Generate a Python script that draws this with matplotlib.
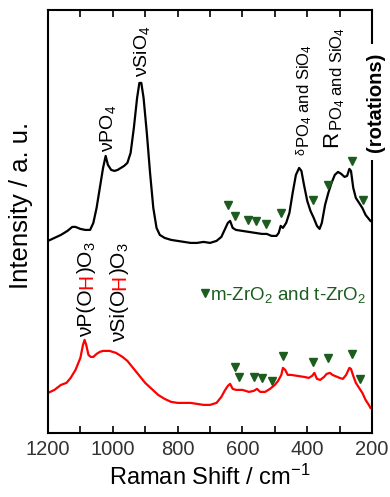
import matplotlib
matplotlib.use('Agg')
import matplotlib.pyplot as plt

plt.rcParams['font.family'] = ['Liberation Sans', 'DejaVu Sans']
plt.rcParams['mathtext.fontset'] = 'custom'
plt.rcParams['mathtext.rm'] = 'Liberation Sans'
plt.rcParams['mathtext.it'] = 'Liberation Sans:italic'
plt.rcParams['mathtext.bf'] = 'Liberation Sans:bold'
plt.rcParams['mathtext.default'] = 'regular'

# upper (black) spectrum, Raman shift / intensity (a.u.)
black_w = [1200, 1180, 1160, 1140, 1125, 1115, 1100, 1085, 1070, 1060, 1050, 1040, 1030, 1022,
           1015, 1005, 995, 985, 975, 965, 955, 945, 935, 925, 918, 912, 905, 895, 885, 875,
           865, 855, 840, 820, 800, 780, 760, 740, 720, 700, 680, 665, 655, 645, 638, 630,
           620, 600, 580, 560, 540, 525, 510, 495, 488, 482, 475, 465, 455, 445, 435, 425,
           418, 410, 400, 390, 380, 370, 362, 355, 345, 335, 325, 315, 305, 295, 285, 277,
           270, 265, 258, 250, 240, 230, 220, 210, 205]
black_i = [192, 195, 198, 202, 206, 206, 204, 203, 203, 210, 225, 245, 265, 277,
           268, 263, 262, 263, 265, 267, 270, 280, 305, 335, 350, 350, 335, 300, 260, 225,
           205, 198, 195, 193, 192, 191, 190, 190, 191, 190, 192, 196, 203, 210, 212, 205,
           203, 202, 201, 200, 199, 199, 197, 197, 200, 207, 205, 210, 220, 240, 258, 265,
           262, 248, 232, 222, 215, 207, 204, 210, 228, 240, 250, 258, 261, 259, 256, 257,
           264, 262, 245, 235, 230, 225, 218, 214, 212]

# lower (red) spectrum
red_w = [1200, 1180, 1160, 1143, 1130, 1115, 1100, 1092, 1087, 1082, 1075, 1068, 1060, 1050,
         1040, 1030, 1010, 990, 970, 955, 940, 920, 900, 880, 860, 840, 820, 800, 780, 760,
         740, 720, 700, 680, 665, 655, 645, 638, 630, 620, 600, 580, 565, 555, 545, 530,
         515, 500, 490, 480, 475, 468, 460, 450, 430, 410, 395, 385, 378, 370, 360, 348,
         340, 330, 322, 315, 300, 290, 280, 270, 265, 258, 250, 240, 230, 220, 210, 205]
red_i = [40, 43, 48, 50, 55, 63, 75, 88, 93, 88, 78, 76, 76, 79,
         81, 82, 82, 80, 76, 72, 66, 58, 50, 44, 38, 34, 31, 30, 30, 30,
         29, 28, 28, 30, 36, 42, 47, 49, 44, 43, 43, 41, 42, 44, 41, 41,
         44, 48, 52, 58, 65, 63, 58, 58, 57, 56, 55, 57, 60, 54, 53, 56,
         59, 60, 58, 57, 55, 54, 58, 65, 64, 57, 50, 45, 40, 33, 28, 25]

# ZrO2 band markers
zr_black_w = [645, 623, 583, 558, 527, 481, 382, 336, 262, 228]
zr_black_i = [228, 217, 213, 212, 209, 220, 233, 248, 272, 233]
zr_red_w = [623, 610, 564, 540, 509, 475, 382, 336, 262, 237]
zr_red_i = [66, 56, 56, 55, 52, 77, 71, 75, 79, 54]

green = '#1d5c1f'

fig = plt.figure(figsize=(3.9, 4.97), dpi=100)
ax = fig.add_axes([0.123, 0.129, 0.831, 0.851])

ax.plot(black_w, black_i, color='black', lw=1.6)
ax.plot(red_w, red_i, color='red', lw=1.6)
ax.plot(zr_black_w, zr_black_i, 'v', color=green, ms=6, ls='none')
ax.plot(zr_red_w, zr_red_i, 'v', color=green, ms=6, ls='none')

ax.set_xlim(1200, 200)
ax.set_ylim(0, 423)
ax.set_xticks(range(1200, 199, -200))
ax.set_xticks(range(1100, 200, -200), minor=True)
ax.set_yticks([])
ax.tick_params(axis='x', which='both', direction='in', top=True, length=5, width=1.2,
               labelsize=14.5, pad=5, labelcolor='#333333')
for sp in ax.spines.values():
    sp.set_linewidth(1.5)


def vtext(x, y, pieces):
    # vertical text built from pieces: (string, colour, size, baseline shift in pt, weight)
    prev = None
    for s, c, size, shift, weight in pieces:
        kw = dict(rotation=90, rotation_mode='anchor', ha='left', va='baseline',
                  color=c, fontsize=size, fontweight=weight,
                  xytext=(shift, 0), textcoords='offset points', annotation_clip=False)
        if prev is None:
            prev = ax.annotate(s, xy=(x, y), xycoords='data', **kw)
        else:
            prev = ax.annotate(s, xy=(x, 1), xycoords=('data', prev), **kw)
    return prev


vtext(999, 281, [('νPO$_4$', 'black', 14, 0, 'normal')])
vtext(894, 356, [('νSiO$_4$', 'black', 14, 0, 'normal')])
vtext(401, 278, [('δ', 'black', 9, -2, 'normal'), ('PO$_4$ and SiO$_4$', 'black', 12, 2, 'normal')])
vtext(299, 286, [('R', 'black', 16, -2, 'normal'), ('PO$_4$ and SiO$_4$', 'black', 12, 2, 'normal')])
t = vtext(172, 281, [('(rotations)', 'black', 14.5, 0, 'bold')])
t.set_bbox(dict(facecolor='white', edgecolor='none', pad=6))

vtext(1064, 96, [('νP(O', 'black', 15, 0, 'normal'), ('H', 'red', 15, 0, 'normal'),
                 (')O$_3$', 'black', 15, 0, 'normal')])
vtext(962, 91, [('νSi(O', 'black', 15, 0, 'normal'), ('H', 'red', 15, 0, 'normal'),
                (')O$_3$', 'black', 15, 0, 'normal')])

ax.plot([715], [140], 'v', color=green, ms=6)
ax.text(700, 138, 'm-ZrO$_2$ and t-ZrO$_2$', color=green, fontsize=13.5, ha='left', va='center')

fig.text(21 / 390, 1 - 205 / 497, 'Intensity / a. u.', rotation=90, fontsize=18.5,
         ha='center', va='center')
fig.text(210 / 390, 1 - 477 / 497, 'Raman Shift / cm$^{-1}$', fontsize=17,
         ha='center', va='center')

fig.savefig('out.png', dpi=100)
